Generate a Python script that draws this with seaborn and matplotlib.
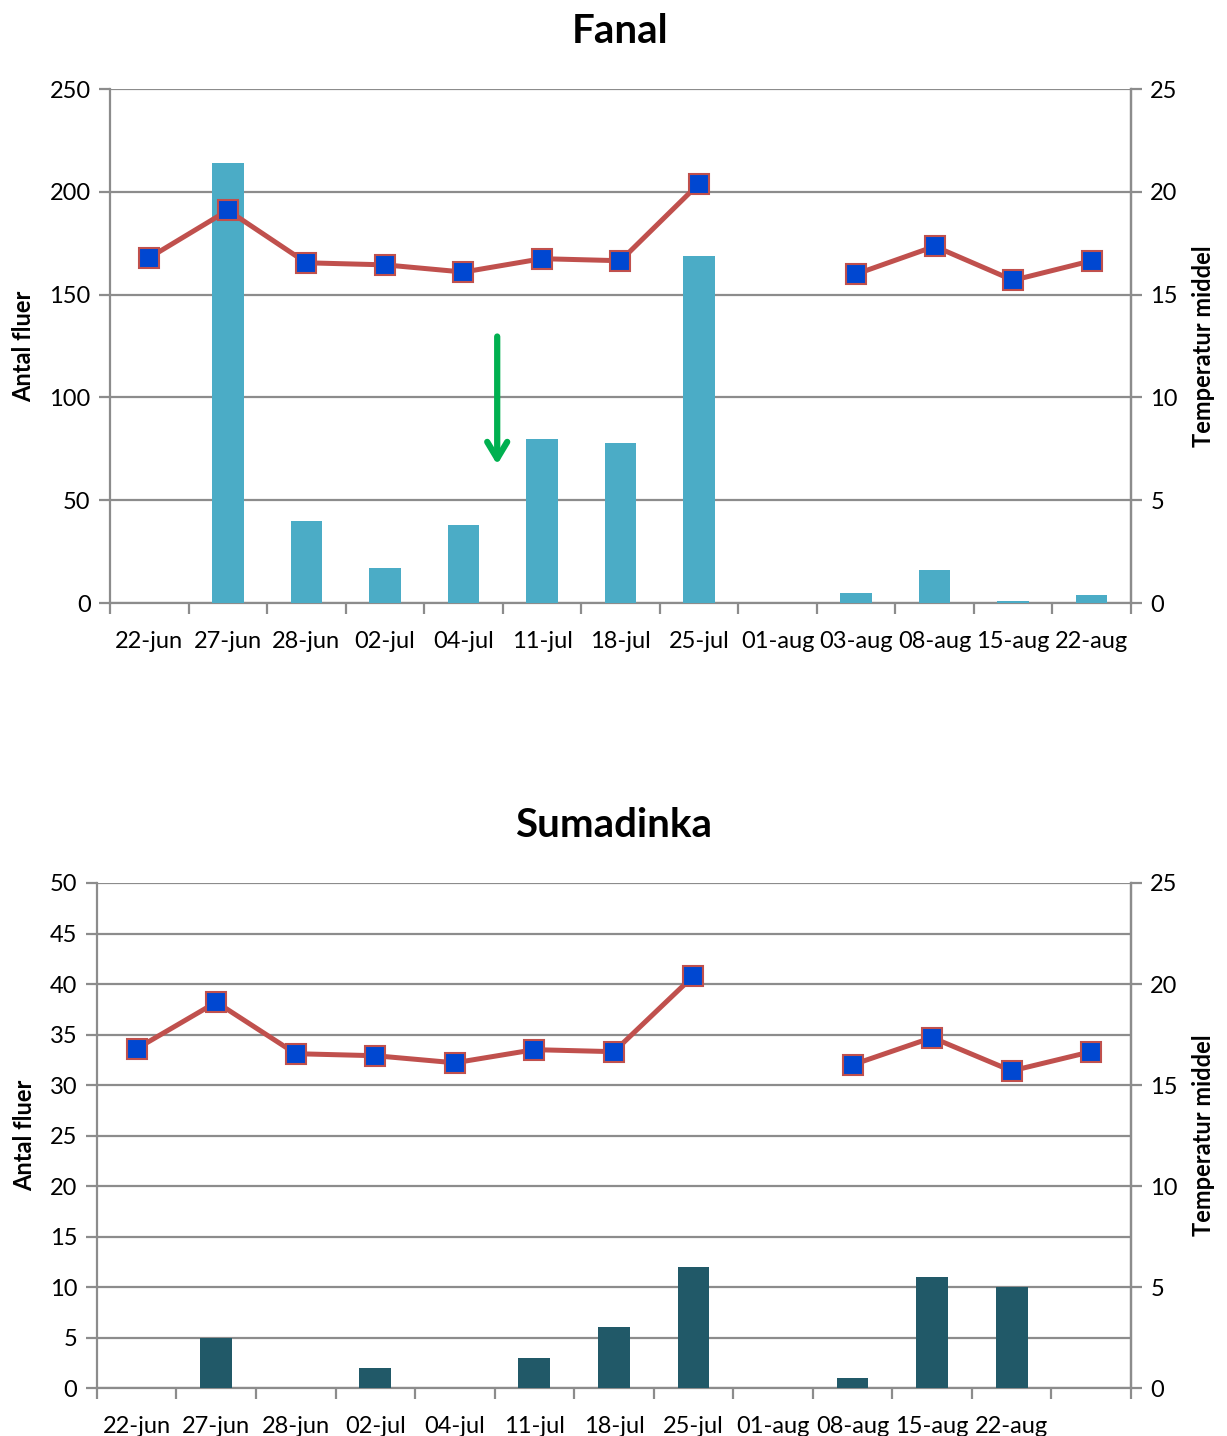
import numpy as np
import pandas as pd
import matplotlib
matplotlib.use("Agg")
import matplotlib.pyplot as plt
import seaborn as sns

# data
dates_fanal = ["22-jun", "27-jun", "28-jun", "02-jul", "04-jul", "11-jul", "18-jul",
               "25-jul", "01-aug", "03-aug", "08-aug", "15-aug", "22-aug"]
dates_suma = ["22-jun", "27-jun", "28-jun", "02-jul", "04-jul", "11-jul", "18-jul",
              "25-jul", "01-aug", "08-aug", "15-aug", "22-aug", " "]
fluer_fanal = [0, 214, 40, 17, 38, 80, 78, 169, 0, 5, 16, 1, 4]
fluer_suma = [0, 5, 0, 2, 0, 3, 6, 12, 0, 1, 11, 10, 0]
temp = [16.8, 19.1, 16.55, 16.45, 16.1, 16.75, 16.65, 20.4, np.nan, 16.0, 17.35, 15.7, 16.65]

sns.set_theme(style="white")
plt.rcParams['font.family'] = ['Lato', 'DejaVu Sans']
plt.rcParams['text.color'] = 'black'
plt.rcParams['axes.labelcolor'] = 'black'

GRID = "#8c8c8c"
LINE = "#C0504D"
MARK = "#0047D1"


def draw(fig, rect, title, labels, counts, ymax, ystep, bar_color, arrow=False):
    ax = fig.add_axes(rect)
    df = pd.DataFrame({"dato": labels, "antal": counts})
    sns.barplot(data=df, x="dato", y="antal", order=labels, color=bar_color,
                width=0.4, saturation=1, linewidth=0, ax=ax, zorder=3)
    ax.set_xlim(-0.5, len(labels) - 0.5)
    ax.set_ylim(0, ymax)
    ax.set_yticks(np.arange(0, ymax + 0.1, ystep))
    ax.yaxis.grid(True, color=GRID, lw=1.6)
    ax.set_axisbelow(True)
    ax.spines["top"].set_visible(False)
    for s in ["left", "bottom", "right"]:
        ax.spines[s].set_color(GRID)
        ax.spines[s].set_linewidth(1.6)
    ax.set_xticks(np.arange(len(labels)))
    ax.set_xticklabels(labels)
    ax.set_xticks(np.arange(-0.5, len(labels)), minor=True)
    ax.tick_params(axis="x", which="major", length=0, pad=20, labelsize=17, labelcolor="black")
    ax.tick_params(axis="x", which="minor", length=8, width=1.6, color=GRID, direction="out", bottom=True)
    ax.tick_params(axis="y", length=8, width=1.6, color=GRID, left=True, pad=6, labelsize=17, labelcolor="black")
    ax.set_xlabel("")
    ax.set_ylabel("Antal fluer", fontsize=17, fontweight="bold", labelpad=10)
    ax.set_title(title, fontsize=29, fontweight="bold", pad=33, color="black")

    ax2 = ax.twinx()
    tdf = pd.DataFrame({"x": np.arange(len(labels)), "temp": temp})
    tdf["seg"] = tdf["temp"].isna().cumsum()
    for _, seg in tdf.dropna().groupby("seg"):
        sns.lineplot(data=seg, x="x", y="temp", color=LINE, lw=3.6, marker="s",
                     markersize=14, markerfacecolor=MARK, markeredgecolor=LINE,
                     markeredgewidth=1.5, ax=ax2, zorder=5)
    ax2.set_ylim(0, 25)
    ax2.set_yticks(np.arange(0, 26, 5))
    ax2.grid(False)
    for s in ["top", "left", "bottom"]:
        ax2.spines[s].set_visible(False)
    ax2.spines["right"].set_color(GRID)
    ax2.spines["right"].set_linewidth(1.6)
    ax2.tick_params(axis="y", length=8, width=1.6, color=GRID, right=True, pad=6, labelsize=17, labelcolor="black")
    ax2.set_xlabel("")
    ax2.set_ylabel("Temperatur middel", fontsize=17, fontweight="bold", labelpad=10)

    if arrow:
        ax.annotate("", xy=(4.43, 66), xytext=(4.43, 131),
                    arrowprops=dict(arrowstyle="->,head_length=1.0,head_width=0.6",
                                    color="#00B050", lw=4.5))
    return ax


fig = plt.figure(figsize=(12.27, 14.36), dpi=100)
draw(fig, [0.0897, 0.580, 0.832, 0.358], "Fanal", dates_fanal, fluer_fanal, 250, 50, "#4BACC6", arrow=True)
draw(fig, [0.079, 0.0334, 0.8427, 0.3517], "Sumadinka", dates_suma, fluer_suma, 50, 5, "#215968")
fig.savefig("out.png", dpi=100)
